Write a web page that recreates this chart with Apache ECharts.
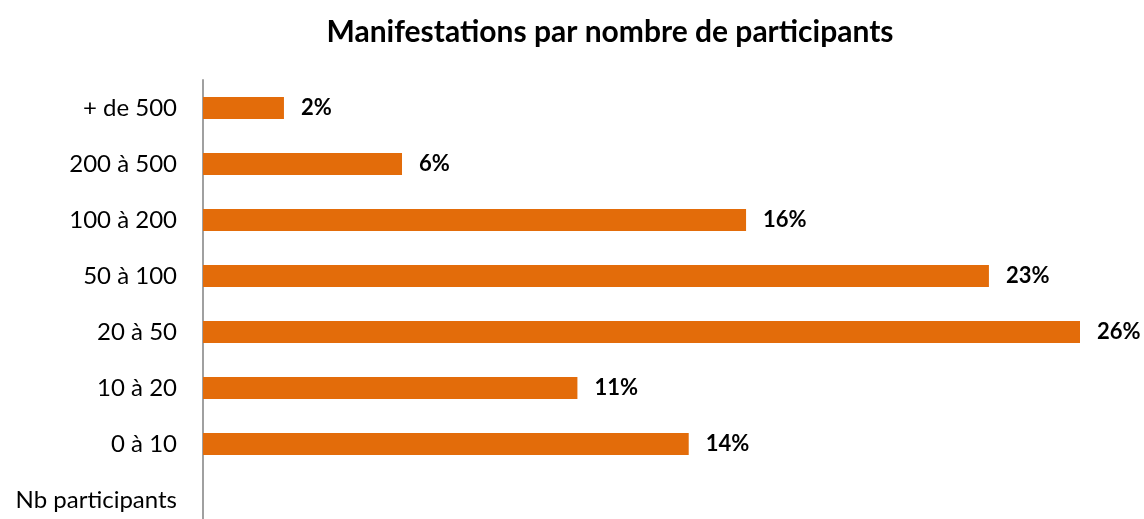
<!DOCTYPE html>
<html>
<head>
<meta charset="utf-8">
<script src="https://cdn.jsdelivr.net/npm/echarts@6/dist/echarts.min.js"></script>
<style>
  html, body { margin: 0; padding: 0; background: #fff; }
  #chart { width: 1144px; height: 519px; }
</style>
</head>
<body>
<div id="chart"></div>
<script>
// categories, bottom to top
const categories = ["Nb participants", "0 à 10", "10 à 20", "20 à 50", "50 à 100", "100 à 200", "200 à 500", "+ de 500"];
const shares = ["-", 14.4, 11.1, 26.0, 23.3, 16.1, 5.9, 2.4];

const chart = echarts.init(document.getElementById("chart"));

chart.setOption({
  animation: false,
  title: {
    text: "Manifestations par nombre de participants",
    left: 605,
    top: 12,
    textAlign: "center",
    textStyle: {
      fontFamily: "Lato",
      fontWeight: "bold",
      fontSize: 30,
      color: "#000",
    },
  },
  grid: {
    left: 203,
    right: 64,
    top: 80,
    height: 448,
    containLabel: false,
    outerBoundsMode: "none",
  },
  xAxis: {
    type: "value",
    min: 0,
    max: 26,
    show: false,
  },
  yAxis: {
    type: "category",
    data: categories,
    axisTick: { show: false },
    axisLine: {
      lineStyle: { color: "#a0a0a0", width: 2 },
    },
    axisLabel: {
      margin: 26,
      fontFamily: "Lato",
      fontSize: 24,
      color: "#000",
    },
  },
  series: [
    {
      type: "bar",
      data: shares,
      barWidth: 22,
      itemStyle: { color: "#E36C0A" },
      label: {
        show: true,
        position: "right",
        distance: 17,
        fontFamily: "Lato",
        fontWeight: "bold",
        fontSize: 22,
        color: "#000",
        formatter: (p) => Math.round(p.value) + "%",
      },
    },
  ],
});
</script>
</body>
</html>
